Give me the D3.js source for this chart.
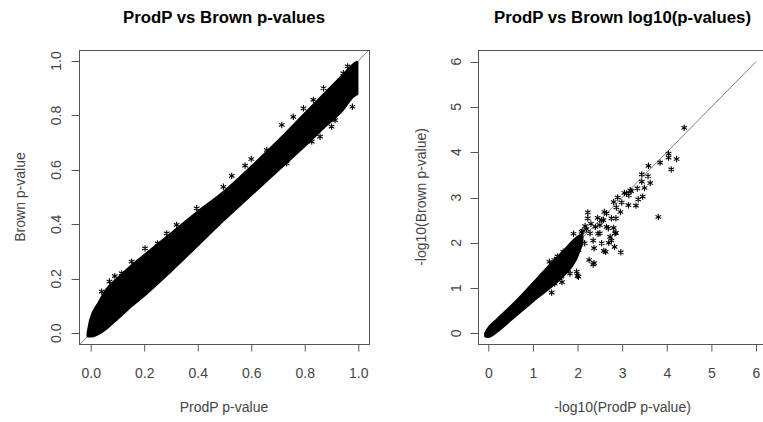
<!DOCTYPE html>
<html>
<head>
<meta charset="utf-8">
<script src="https://cdn.jsdelivr.net/npm/d3@7"></script>
<style>
  body { margin: 0; background: #fff; }
  svg { display: block; font-family: "Liberation Sans", Arial, sans-serif; }
</style>
</head>
<body>
<svg id="chart" width="763" height="422"></svg>
<script>
// ---- data ----
// left panel: dense core of the p-value scatter (x, lower y, upper y)
var bandLX  = [-0.01, 0.0, 0.03, 0.06, 0.1, 0.15, 0.2, 0.3, 0.4, 0.5, 0.6, 0.7, 0.8, 0.88, 0.94, 0.98, 0.995];
var bandLHi = [0.0, 0.05, 0.11, 0.16, 0.2, 0.245, 0.285, 0.365, 0.445, 0.52, 0.61, 0.705, 0.805, 0.885, 0.945, 0.985, 0.995];
var bandLLo = [-0.01, -0.01, 0.0, 0.02, 0.055, 0.1, 0.14, 0.23, 0.325, 0.42, 0.51, 0.6, 0.69, 0.765, 0.82, 0.87, 0.88];
// left panel: stray points at the edge of the band
var strayLX = [0.714, 0.757, 0.795, 0.658, 0.577, 0.527, 0.496, 0.396, 0.321, 0.284, 0.203, 0.153, 0.116, 0.041, 0.832, 0.944,
               0.978, 0.913, 0.9, 0.857, 0.826, 0.732, 0.658, 0.62, 0.433, 0.396, 0.203, 0.07, 0.09, 0.25, 0.6, 0.87, 0.96];
var strayLY = [0.765, 0.795, 0.826, 0.673, 0.616, 0.578, 0.538, 0.459, 0.398, 0.367, 0.312, 0.263, 0.22, 0.153, 0.857, 0.955,
               0.832, 0.783, 0.759, 0.722, 0.704, 0.624, 0.575, 0.538, 0.386, 0.361, 0.177, 0.19, 0.21, 0.33, 0.64, 0.9, 0.98];

// right panel: dense core of the -log10 scatter
var bandRX  = [-0.06, 0.0, 0.2, 0.5, 0.8, 1.1, 1.4, 1.7, 1.95, 2.1];
var bandRHi = [0.0, 0.1, 0.3, 0.58, 0.88, 1.2, 1.52, 1.82, 2.08, 2.18];
var bandRLo = [-0.06, -0.07, 0.05, 0.3, 0.55, 0.8, 1.03, 1.3, 1.62, 2.0];
// right panel: scattered points
var strayRX = [4.39, 4.04, 4.04, 4.22, 3.85, 4.1, 3.59, 3.44, 3.58, 3.63, 3.44, 3.34, 3.5, 3.18, 3.1, 3.36, 3.46, 3.31, 3.14, 2.99,
               3.81, 2.81, 2.87, 2.96, 2.23, 2.23, 2.65, 2.76, 2.86, 2.58, 2.65, 2.81, 2.86, 2.73, 2.76, 2.5, 2.83, 2.59, 2.97, 2.7,
               2.37, 2.35, 2.0, 1.98, 1.83, 1.65, 2.09, 1.91, 1.37, 1.48, 1.42, 2.5, 2.17,
               2.54, 2.69, 2.84, 2.54, 2.63, 2.37, 2.26, 2.02, 2.28, 2.4, 2.16, 2.02, 1.87, 1.72, 1.57, 1.42, 1.79, 1.64, 1.49,
               2.2, 2.3, 2.45, 2.6, 2.9, 3.05, 3.15, 3.2, 2.12, 2.05, 2.35, 2.46, 1.55, 1.68];
var strayRY = [4.54, 3.97, 3.88, 3.85, 3.77, 3.62, 3.7, 3.51, 3.47, 3.32, 3.35, 3.2, 3.21, 3.16, 3.09, 2.96, 3.02, 2.82, 2.83, 2.89,
               2.57, 2.9, 2.78, 2.68, 2.67, 2.54, 2.65, 2.54, 2.54, 2.5, 2.35, 2.33, 2.22, 2.13, 2.05, 2.21, 1.91, 1.82, 1.79, 2.0,
               1.88, 1.52, 1.27, 1.36, 1.32, 1.13, 2.24, 2.2, 1.58, 1.62, 0.9, 2.39, 2.37,
               2.5, 2.32, 2.21, 1.99, 1.8, 1.55, 1.62, 1.25, 2.21, 2.35, 1.99, 1.84, 1.73, 1.62, 1.47, 1.4, 1.4, 1.25, 1.1,
               2.3, 2.42, 2.55, 2.68, 3.0, 3.1, 3.05, 3.14, 2.26, 1.95, 2.05, 2.2, 1.7, 1.8];

var ticksL = [0, 0.2, 0.4, 0.6, 0.8, 1.0];
var ticksR = [0, 1, 2, 3, 4, 5, 6];

var svg = d3.select("#chart");

// asterisk marker, like R's star points
function star(r) {
  var p = "";
  for (var k = 0; k < 3; k++) {
    var a = Math.PI / 2 + k * Math.PI / 3;
    var dx = r * Math.cos(a), dy = r * Math.sin(a);
    p += "M" + dx + "," + dy + "L" + (-dx) + "," + (-dy);
  }
  return p;
}

function panel(o) {
  var g = svg.append("g");
  var x = d3.scaleLinear().domain(o.xd).range(o.xr);
  var y = d3.scaleLinear().domain(o.yd).range(o.yr);
  var b = o.box; // left, right, top, bottom

  var clipId = "clip" + o.id;
  svg.append("clipPath").attr("id", clipId)
    .append("rect").attr("x", b[0]).attr("y", b[2]).attr("width", b[1] - b[0]).attr("height", b[3] - b[2]);

  // reference line y = x
  g.append("line")
    .attr("clip-path", "url(#" + clipId + ")")
    .attr("x1", x(o.line[0])).attr("y1", y(o.line[0]))
    .attr("x2", x(o.line[1])).attr("y2", y(o.line[1]))
    .attr("stroke", "#808080").attr("stroke-width", 1);

  // dense core
  var rows = o.bx.map(function(v, i) { return {x: v, lo: o.blo[i], hi: o.bhi[i]}; });
  var area = d3.area()
    .x(function(d) { return x(d.x); })
    .y0(function(d) { return y(d.lo); })
    .y1(function(d) { return y(d.hi); })
    .curve(d3.curveMonotoneX);
  g.append("path").datum(rows).attr("d", area)
    .attr("fill", "#000").attr("stroke", "#000").attr("stroke-width", 3).attr("stroke-linejoin", "round");

  // stray points
  var pts = o.sx.map(function(v, i) { return [v, o.sy[i]]; });
  g.selectAll("path.pt").data(pts).enter().append("path")
    .attr("class", "pt")
    .attr("transform", function(d) { return "translate(" + x(d[0]) + "," + y(d[1]) + ")"; })
    .attr("d", star(3.2))
    .attr("stroke", "#000").attr("stroke-width", 1.1).attr("fill", "none");

  // box
  g.append("rect").attr("x", b[0] + 0.5).attr("y", b[2] + 0.5)
    .attr("width", b[1] - b[0]).attr("height", b[3] - b[2])
    .attr("fill", "none").attr("stroke", "#555");

  // x axis
  var xa = d3.axisBottom(x).tickValues(o.ticksX).tickSize(7).tickPadding(17).tickFormat(o.fmt);
  var gx = g.append("g").attr("transform", "translate(0," + (b[3] + 0.5) + ")").call(xa);
  gx.select(".domain").remove();
  gx.selectAll(".tick line").attr("stroke", "#555");
  gx.selectAll(".tick text").attr("font-size", 14).attr("fill", "#444")
    .attr("font-family", "Liberation Sans, Arial, sans-serif");

  // y axis: ticks, rotated labels
  var gy = g.append("g");
  gy.selectAll("line").data(o.ticksY).enter().append("line")
    .attr("x1", b[0] + 0.5).attr("x2", b[0] + 0.5 - 8)
    .attr("y1", function(d) { return Math.round(y(d)) + 0.5; })
    .attr("y2", function(d) { return Math.round(y(d)) + 0.5; })
    .attr("stroke", "#555");
  gy.selectAll("text").data(o.ticksY).enter().append("text")
    .attr("transform", function(d) { return "translate(" + o.ylabX + "," + y(d) + ") rotate(-90)"; })
    .attr("text-anchor", "middle").attr("font-size", 14).attr("fill", "#444")
    .text(o.fmt);

  // titles
  var cx = (b[0] + b[1]) / 2;
  g.append("text").attr("x", cx).attr("y", 23).attr("text-anchor", "middle")
    .attr("font-size", 16.8).attr("font-weight", "bold").attr("fill", "#000").text(o.title);
  g.append("text").attr("x", cx).attr("y", 412).attr("text-anchor", "middle")
    .attr("font-size", 14).attr("fill", "#444").text(o.xlab);
  g.append("text")
    .attr("transform", "translate(" + o.ytitX + "," + ((b[2] + b[3]) / 2) + ") rotate(-90)")
    .attr("text-anchor", "middle").attr("font-size", 14).attr("fill", "#444").text(o.ylab);
}

panel({
  id: "L",
  xd: [0, 1], xr: [90.7, 358.3],
  yd: [0, 1], yr: [333.3, 61],
  box: [79, 369, 50, 344],
  line: [-0.1, 1.1],
  bx: bandLX, blo: bandLLo, bhi: bandLHi,
  sx: strayLX, sy: strayLY,
  ticksX: ticksL, ticksY: ticksL,
  fmt: d3.format(".1f"),
  ylabX: 60.5, ytitX: 25,
  title: "ProdP vs Brown p-values",
  xlab: "ProdP p-value",
  ylab: "Brown p-value"
});

panel({
  id: "R",
  xd: [0, 6], xr: [488.3, 756],
  yd: [0, 6], yr: [333.3, 61.7],
  box: [478, 767, 50, 344],
  line: [0, 6],
  bx: bandRX, blo: bandRLo, bhi: bandRHi,
  sx: strayRX, sy: strayRY,
  ticksX: ticksR, ticksY: ticksR,
  fmt: d3.format("d"),
  ylabX: 461, ytitX: 426,
  title: "ProdP vs Brown log10(p-values)",
  xlab: "-log10(ProdP p-value)",
  ylab: "-log10(Brown p-value)"
});
</script>
</body>
</html>
